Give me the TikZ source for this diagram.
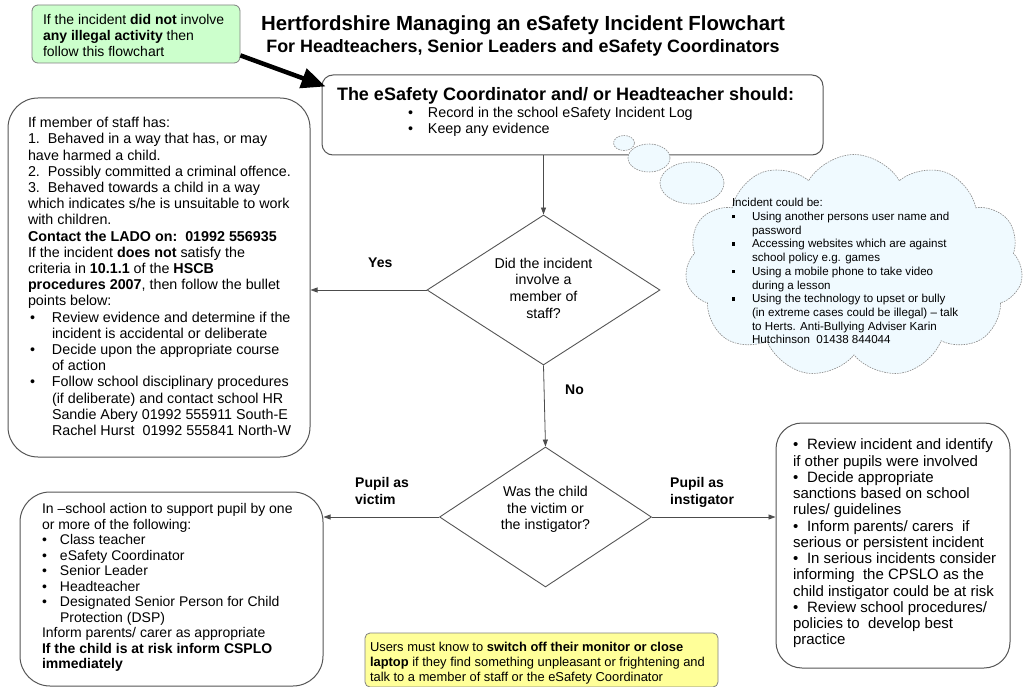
\documentclass[tikz,border=0pt]{standalone}
\usepackage{fontspec}
\setmainfont{Liberation Sans}
\usetikzlibrary{shapes.geometric,shapes.symbols,arrows.meta}
\definecolor{greenfill}{RGB}{204,255,204}
\definecolor{yellowfill}{RGB}{255,255,153}
\definecolor{cloudfill}{RGB}{240,250,255}
\definecolor{edge}{RGB}{85,85,85}
\newcommand\blt{\makebox[24pt][l]{\kern2pt•}}
\newcommand\bltb{\makebox[18pt][l]{•}}
\newcommand\bltc{\makebox[14pt][l]{•}}
\newcommand\sqb{\makebox[20pt][l]{\raisebox{2.2pt}{\rule{3.4pt}{3.4pt}}}}
\begin{document}
\begin{tikzpicture}[x=1pt,y=-1pt,
  frame/.style={draw=edge, line width=1pt, fill=white, inner sep=0pt},
  note/.style={draw=black!50, line width=0.8pt, rounded corners=6pt, inner sep=0pt},
  txt/.style={inner sep=0pt, outer sep=0pt, anchor=north west, align=left},
  body/.style={font=\fontsize{14.3}{16.2}\selectfont},
  flow/.style={draw=black!70, line width=0.8pt, -{Triangle[length=7pt,width=5pt]}},
  lbl/.style={inner sep=0pt, font=\bfseries\fontsize{14}{17}\selectfont, align=left},
  decision/.style={diamond, draw=edge, line width=0.9pt, inner sep=0pt},
  puff/.style={draw=black!45, fill=cloudfill, dash pattern=on 1.6pt off 1pt, line width=0.6pt, inner sep=0pt},
]
\useasboundingbox (0,0) rectangle (1028,687);

% title
\node[inner sep=0pt, anchor=base, font=\bfseries\fontsize{20.4}{24}\selectfont] (title1) at (523,31) {Hertfordshire Managing an eSafety Incident Flowchart};
\node[inner sep=0pt, anchor=base, font=\bfseries\fontsize{17.9}{22}\selectfont] (title2) at (523,53) {For Headteachers, Senior Leaders and eSafety Coordinators};

% green note
\node[note, fill=greenfill, minimum width=208pt, minimum height=58pt] (green) at (136,34) {};
\node[txt, font=\fontsize{14}{16}\selectfont] (greentxt) at (43,14.4) {If the incident \textbf{did not} involve\\\textbf{any illegal activity} then\\follow this flowchart};

% top box
\node[frame, rounded corners=11pt, minimum width=501pt, minimum height=80pt] (topbox) at (572.5,115) {};
\node[txt, font=\bfseries\fontsize{18}{20}\selectfont] (toptitle) at (337,87.8) {The eSafety Coordinator and/ or Headteacher should:};
\node[txt, body] (toplist) at (408,107.3) {\makebox[20pt][l]{•}Record in the school eSafety Incident Log\\\makebox[20pt][l]{•}Keep any evidence};

% cloud
\node[puff, cloud, cloud puffs=11, cloud puff arc=120, aspect=1.5, minimum width=338pt, minimum height=223pt] (cloud) at (854,266) {};
\node[puff, ellipse, minimum width=64pt, minimum height=42pt] (b3) at (692,183) {};
\node[puff, ellipse, minimum width=42pt, minimum height=28pt] (b2) at (649,158) {};
\node[puff, ellipse, minimum width=21pt, minimum height=15pt] (b1) at (624,143) {};
\node[txt, font=\fontsize{11.6}{13.7}\selectfont] (cloudtxt) at (732,198.4) {Incident could be:\\
\sqb Using another persons user name and\\
\hspace*{20pt}password\\
\sqb Accessing websites which are against\\
\hspace*{20pt}school policy e.g. games\\
\sqb Using a mobile phone to take video\\
\hspace*{20pt}during a lesson\\
\sqb Using the technology to upset or bully\\
\hspace*{20pt}(in extreme cases could be illegal) -- talk\\
\hspace*{20pt}to Herts. Anti-Bullying Adviser Karin\\
\hspace*{20pt}Hutchinson\ \ 01438 844044};

% staff box
\node[frame, rounded corners=30pt, minimum width=302pt, minimum height=359pt] (staff) at (159,277.5) {};
\node[txt, body] (stafftxt) at (28,117.3) {If member of staff has:\\
1.\ \ Behaved in a way that has, or may\\
have harmed a child.\\
2.\ \ Possibly committed a criminal offence.\\
3.\ \ Behaved towards a child in a way\\
which indicates s/he is unsuitable to work\\
with children.\\
\textbf{Contact the LADO on:\ \ 01992 556935}\\
If the incident \textbf{does not} satisfy the\\
criteria in \textbf{10.1.1} of the \textbf{HSCB}\\
\textbf{procedures 2007}, then follow the bullet\\
points below:\\
\blt Review evidence and determine if the\\
\hspace*{24pt}incident is accidental or deliberate\\
\blt Decide upon the appropriate course\\
\hspace*{24pt}of action\\
\blt Follow school disciplinary procedures\\
\hspace*{24pt}(if deliberate) and contact school HR\\
\hspace*{24pt}Sandie Abery 01992 555911 South-E\\
\hspace*{24pt}Rachel Hurst\ \ 01992 555841 North-W};

% decisions
\node[decision, minimum width=233pt, minimum height=150pt] (d1) at (543.5,290) {};
\node[inner sep=0pt, align=center, font=\fontsize{14.2}{16.7}\selectfont] (d1txt) at (543.5,288) {Did the incident\\involve a\\member of\\staff?};
\node[decision, minimum width=212pt, minimum height=140pt] (d2) at (545.5,517) {};
\node[inner sep=0pt, align=center, font=\fontsize{14.2}{16.5}\selectfont] (d2txt) at (545.5,509.5) {Was the child\\the victim or\\the instigator?};

% victim box
\node[frame, rounded corners=30pt, minimum width=303pt, minimum height=194pt] (victim) at (171.5,589) {};
\node[txt, font=\fontsize{14}{15.5}\selectfont] (victimtxt) at (42,503.4) {In --school action to support pupil by one\\
or more of the following:\\
\bltb Class teacher\\
\bltb eSafety Coordinator\\
\bltb Senior Leader\\
\bltb Headteacher\\
\bltb Designated Senior Person for Child\\
\hspace*{18pt}Protection (DSP)\\
Inform parents/ carer as appropriate\\
\textbf{If the child is at risk inform CSPLO}\\
\textbf{immediately}};

% instigator box
\node[frame, rounded corners=26pt, minimum width=234pt, minimum height=245pt] (inst) at (893,545.5) {};
\node[txt, font=\fontsize{15}{16.25}\selectfont] (insttxt) at (793,439) {\bltc Review incident and identify\\
if other pupils were involved\\
\bltc Decide appropriate\\
sanctions based on school\\
rules/ guidelines\\
\bltc Inform parents/ carers\ \ if\\
serious or persistent incident\\
\bltc In serious incidents consider\\
informing\ \ the CPSLO as the\\
child instigator could be at risk\\
\bltc Review school procedures/\\
policies to\ \ develop best\\
practice};

% yellow note
\node[note, rounded corners=5pt, fill=yellowfill, minimum width=353pt, minimum height=54pt] (yellow) at (541.5,660) {};
\node[txt, font=\fontsize{12.9}{15}\selectfont] (yellowtxt) at (370,641.8) {Users must know to \textbf{switch off their monitor or close}\\\textbf{laptop} if they find something unpleasant or frightening and\\talk to a member of staff or the eSafety Coordinator};

% labels
\node[lbl, anchor=base west] (yes) at (368,267) {Yes};
\node[lbl, anchor=base west] (no) at (565,394) {No};
\node[lbl, anchor=north west] (pv) at (355,477.4) {Pupil as\\victim};
\node[lbl, anchor=north west] (pi) at (670,477.4) {Pupil as\\instigator};

% connectors
\draw[line width=4.5pt, -{Triangle[length=24pt,width=20pt]}] ([yshift=8pt]green.south east) -- ([xshift=4pt,yshift=-12pt]topbox.north west);
\draw[flow] (d1.north |- topbox.south) -- (d1.north);
\draw[flow] (d1.west) -- (d1.west -| staff.east);
\draw[flow] (d1.south) -- (d2.north);
\draw[flow] (d2.west) -- (d2.west -| victim.east);
\draw[flow] (d2.east) -- (d2.east -| inst.west);
\end{tikzpicture}
\end{document}
